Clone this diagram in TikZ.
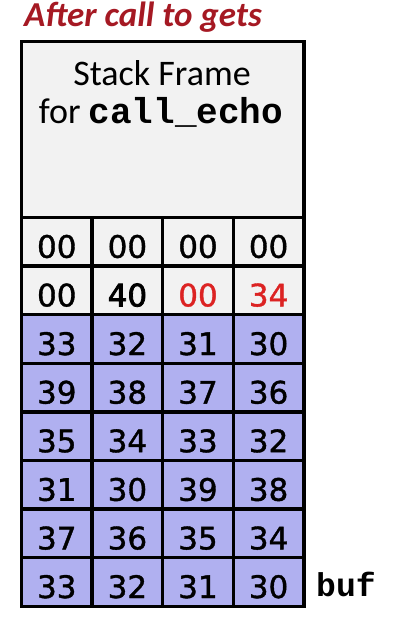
\documentclass[tikz,border=0pt]{standalone}
\usepackage{fontspec}
\setmainfont{Carlito}
\setmonofont{Liberation Mono}
\newfontfamily\digitfont[FakeBold=1.2]{DejaVu Sans}
\newfontfamily\digitbold[FakeBold=2.6]{DejaVu Sans}
\definecolor{titlered}{RGB}{165,25,35}
\definecolor{framegray}{RGB}{242,242,242}
\definecolor{lav}{RGB}{176,176,240}
\definecolor{hexred}{RGB}{220,35,35}
\begin{document}
\begin{tikzpicture}[x=1pt,y=-1pt,
  cell/.style={draw=black, line width=3.5pt, minimum width=70.6pt, minimum height=48.6pt,
    inner sep=0pt, outer sep=0pt, text height=32pt, text depth=0pt,
    font=\digitfont\fontsize{31}{31}\selectfont},
  graycell/.style={cell, fill=framegray},
  lavcell/.style={cell, fill=lav},
  redtext/.style={text=hexred}]
\useasboundingbox (0,0) rectangle (400,621);
% title
\node[anchor=base west, inner sep=0pt, text=titlered,
  font=\bfseries\itshape\fontsize{35}{35}\selectfont] (title) at (24,26) {After call to gets};
% stack frame box
\node[draw=black, line width=3.5pt, fill=framegray, minimum width=282.5pt,
  minimum height=176pt, inner sep=0pt, outer sep=0pt] (frame) at (162.75,129.5) {};
\node[anchor=base, inner sep=0pt, font=\fontsize{36}{36}\selectfont] (sf1) at (162,85) {Stack Frame};
\node[anchor=base, inner sep=0pt, font=\fontsize{36}{36}\selectfont] (sf2) at (161,123)
  {for \texttt{\bfseries call\_echo}};
% row 1
\node[graycell] (c11) at (56.8,241.8) {00};
\node[graycell] (c12) at (127.4,241.8) {00};
\node[graycell] (c13) at (198.0,241.8) {00};
\node[graycell] (c14) at (268.6,241.8) {00};
% row 2
\node[graycell] (c21) at (56.8,290.4) {00};
\node[graycell, font=\digitbold\fontsize{31}{31}\selectfont] (c22) at (127.4,290.4) {40};
\node[graycell, redtext] (c23) at (198.0,290.4) {00};
\node[graycell, redtext] (c24) at (268.6,290.4) {34};
% purple rows
\foreach \r/\y/\a/\b/\c/\d in {3/339.0/33/32/31/30, 4/387.6/39/38/37/36, 5/436.2/35/34/33/32,
  6/484.8/31/30/39/38, 7/533.4/37/36/35/34, 8/582.0/33/32/31/30}{
  \node[lavcell] (c\r1) at (56.8,\y) {\a};
  \node[lavcell] (c\r2) at (127.4,\y) {\b};
  \node[lavcell] (c\r3) at (198.0,\y) {\c};
  \node[lavcell] (c\r4) at (268.6,\y) {\d};
}
% buf label
\node[anchor=base west, inner sep=0pt, font=\ttfamily\bfseries\fontsize{33}{33}\selectfont] (buf) at (316,596) {buf};
\end{tikzpicture}
\end{document}
